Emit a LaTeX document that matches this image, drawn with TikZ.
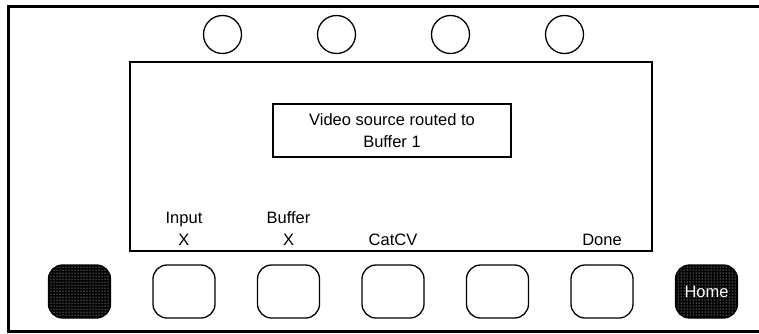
\documentclass[tikz,border=0pt]{standalone}
\usepackage{fontspec}
\setmainfont{Liberation Sans}
\usetikzlibrary{positioning, patterns}
\tikzset{panelfont/.style={font=\fontsize{16.5}{22}\selectfont}}
\tikzset{knob/.style={circle, draw, line width=1.3pt, minimum size=38pt, inner sep=0pt, outer sep=0pt}}
\tikzset{softkey/.style={draw, line width=1.3pt, rounded corners=14pt, minimum width=62pt, minimum height=53pt, inner sep=0pt, outer sep=0pt}}
\tikzset{hatched/.style={preaction={fill=black}, pattern=dots, pattern color=white, text=white}}
\tikzset{keylabel/.style={align=center, inner sep=0pt, text depth=0pt, panelfont}}

\begin{document}
\begin{tikzpicture}[x=1pt, y=1pt]
	\useasboundingbox (0,0) rectangle (759,333);
	% outer frame, runs off on the right
	\draw[line width=3pt] (762,326.5) -- (8.5,326.5) -- (8.5,2) -- (762,2);
	% screen and message
	\node[draw, line width=1.3pt, minimum width=522pt, minimum height=189pt, inner sep=0pt, outer sep=0pt] (screen) at (391,176.5) {};
	\node[draw, line width=1.3pt, minimum width=238pt, minimum height=53pt, align=center, panelfont] (msg) at (392,202.5) {Video source routed to\\Buffer 1};
	% top knobs
	\node[knob] (T1) at (222.5,298.5) {};
	\node[knob, right=76pt of T1] (T2) {};
	\node[knob, right=76pt of T2] (T3) {};
	\node[knob, right=76pt of T3] (T4) {};
	% soft keys
	\node[softkey, hatched] (K0) at (79.5,41.5) {};
	\node[softkey, right=42.5pt of K0] (K1) {};
	\node[softkey, right=42.5pt of K1] (K2) {};
	\node[softkey, right=42.5pt of K2] (K3) {};
	\node[softkey, right=42.5pt of K3] (K4) {};
	\node[softkey, right=42.5pt of K4] (K5) {};
	\node[softkey, hatched, panelfont, right=42.5pt of K5] (Home) {Home};
	% key labels
	\node[keylabel, above=19pt of K1] (inputlbl) {Input\\X};
	\node[keylabel, above=19pt of K2] (bufferlbl) {Buffer\\X};
	\node[keylabel, above=19pt of K3] (catcvlbl) {CatCV};
	\node[keylabel, above=19pt of K5] (donelbl) {Done};
\end{tikzpicture}
\end{document}
